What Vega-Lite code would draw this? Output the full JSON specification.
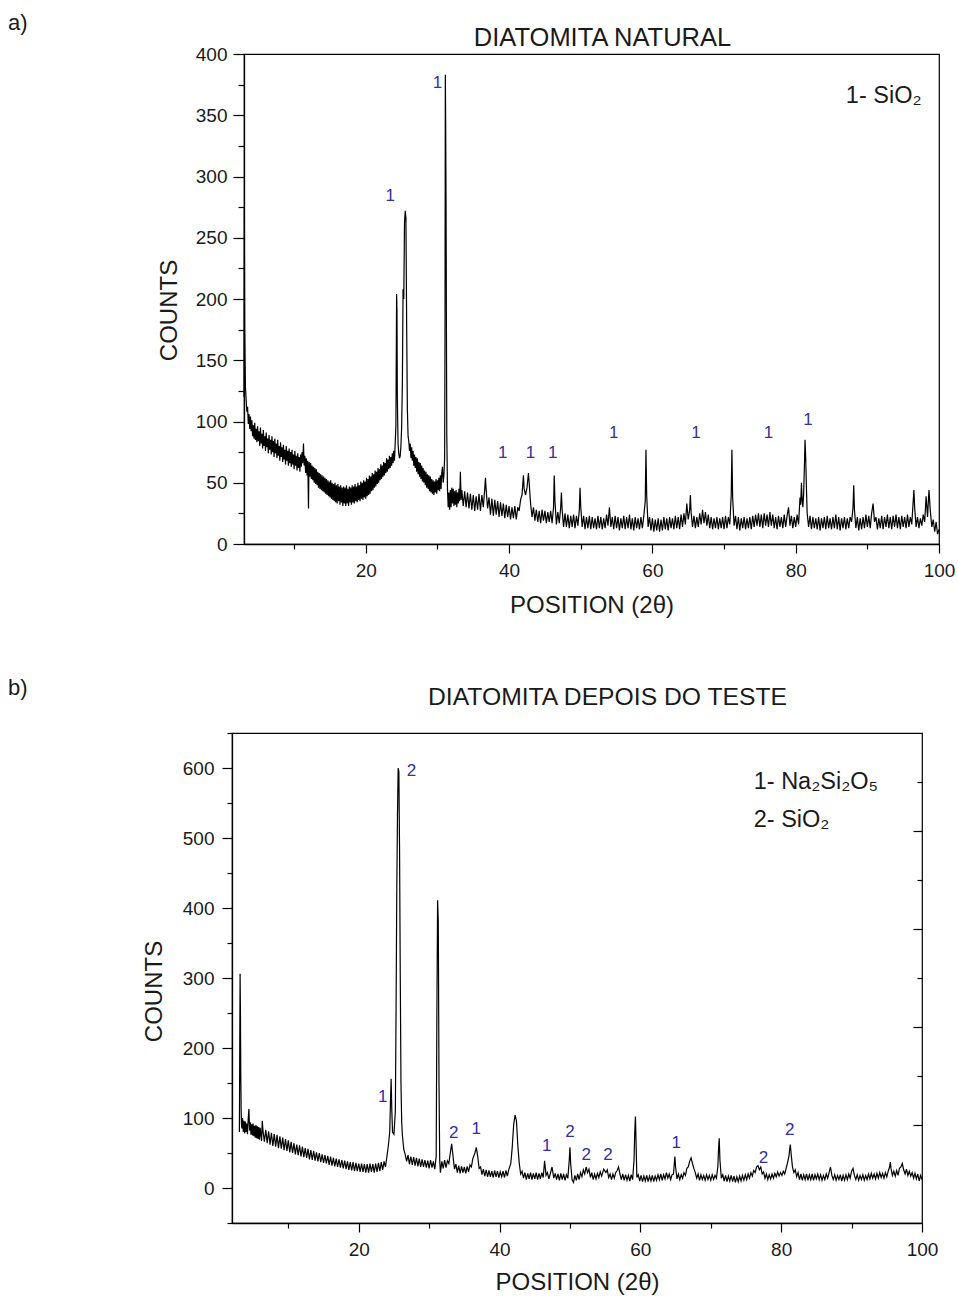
{
  "$schema": "https://vega.github.io/schema/vega-lite/v6.json",
  "background": "white",
  "padding": {"left": 8, "top": 11, "right": 5, "bottom": 0},
  "spacing": 58,
  "config": {
    "font": "Liberation Sans",
    "view": {"stroke": "#000000", "strokeWidth": 1.2},
    "axis": {"grid": false, "labelFont": "Liberation Sans", "titleFont": "Liberation Sans", "labelColor": "#1a1a1a", "titleColor": "#1a1a1a", "titleFontWeight": "normal", "domainColor": "#000000", "tickColor": "#000000", "tickWidth": 1.2, "domainWidth": 1.3, "labelOverlap": false, "labelFlush": false},
    "title": {"font": "Liberation Sans", "fontWeight": "normal", "color": "#1a1a1a", "fontSize": 22}
  },
  "vconcat": [
    {
      "spacing": 0,
      "hconcat": [
        {
          "width": 148,
          "height": 1,
          "view": {"stroke": null},
          "title": {"text": "a)", "anchor": "start", "frame": "group", "offset": 14},
          "data": {"values": [{"t": ""}]},
          "mark": {"type": "text"},
          "encoding": {"text": {"field": "t"}}
        },
        {
      "width": 695,
      "height": 490,
      "resolve": {"axis": {"x": "independent", "y": "independent"}},
      "layer": [
        {
          "data": {"values": [
{"x":3.0,"y":120},{"x":3.05,"y":275},{"x":3.1,"y":178},{"x":3.15,"y":150},{"x":3.2,"y":128},{"x":3.3,"y":118},{"x":3.4,"y":108},{"x":3.5,"y":112},{"x":3.6,"y":98},{"x":3.7,"y":106},{"x":3.8,"y":94},{"x":3.9,"y":104},
{"x":4.0,"y":92},{"x":4.1,"y":101},{"x":4.2,"y":88},{"x":4.3,"y":97},{"x":4.4,"y":86},{"x":4.5,"y":99},{"x":4.6,"y":85},{"x":4.7,"y":94},{"x":4.8,"y":83},{"x":4.9,"y":96},
{"x":5.0,"y":84},{"x":5.1,"y":92},{"x":5.2,"y":80},{"x":5.3,"y":95},{"x":5.4,"y":82},{"x":5.5,"y":90},{"x":5.6,"y":78},{"x":5.7,"y":93},{"x":5.8,"y":80},{"x":5.9,"y":88},
{"x":6.0,"y":76},{"x":6.1,"y":91},{"x":6.2,"y":79},{"x":6.3,"y":86},{"x":6.4,"y":74},{"x":6.5,"y":89},{"x":6.6,"y":77},{"x":6.7,"y":85},{"x":6.8,"y":73},{"x":6.9,"y":88},
{"x":7.0,"y":75},{"x":7.1,"y":84},{"x":7.2,"y":71},{"x":7.3,"y":86},{"x":7.4,"y":74},{"x":7.5,"y":82},{"x":7.6,"y":70},{"x":7.7,"y":85},{"x":7.8,"y":72},{"x":7.9,"y":80},
{"x":8.0,"y":68},{"x":8.1,"y":83},{"x":8.2,"y":71},{"x":8.3,"y":79},{"x":8.4,"y":67},{"x":8.5,"y":81},{"x":8.6,"y":69},{"x":8.7,"y":77},{"x":8.8,"y":65},{"x":8.9,"y":80},
{"x":9.0,"y":68},{"x":9.1,"y":76},{"x":9.2,"y":64},{"x":9.3,"y":78},{"x":9.4,"y":66},{"x":9.5,"y":75},{"x":9.6,"y":63},{"x":9.7,"y":77},{"x":9.8,"y":65},{"x":9.9,"y":73},
{"x":10.0,"y":61},{"x":10.1,"y":76},{"x":10.2,"y":64},{"x":10.3,"y":72},{"x":10.4,"y":60},{"x":10.5,"y":74},{"x":10.6,"y":62},{"x":10.7,"y":71},{"x":10.8,"y":59},{"x":10.9,"y":73},
{"x":11.0,"y":63},{"x":11.1,"y":75},{"x":11.2,"y":66},{"x":11.3,"y":82},{"x":11.4,"y":64},{"x":11.5,"y":72},{"x":11.6,"y":58},{"x":11.7,"y":70},{"x":11.8,"y":56},{"x":11.9,"y":68},
{"x":12.0,"y":29},{"x":12.05,"y":57},{"x":12.1,"y":67},{"x":12.2,"y":55},{"x":12.3,"y":66},{"x":12.4,"y":53},{"x":12.5,"y":64},{"x":12.6,"y":52},{"x":12.7,"y":63},{"x":12.8,"y":50},{"x":12.9,"y":62},
{"x":13.0,"y":49},{"x":13.1,"y":61},{"x":13.2,"y":48},{"x":13.3,"y":59},{"x":13.4,"y":46},{"x":13.5,"y":58},{"x":13.6,"y":45},{"x":13.7,"y":57},{"x":13.8,"y":44},{"x":13.9,"y":56},
{"x":14.0,"y":43},{"x":14.1,"y":55},{"x":14.2,"y":42},{"x":14.3,"y":54},{"x":14.4,"y":41},{"x":14.5,"y":53},{"x":14.6,"y":40},{"x":14.7,"y":52},{"x":14.8,"y":39},{"x":14.9,"y":51},
{"x":15.0,"y":38},{"x":15.1,"y":52},{"x":15.2,"y":37},{"x":15.3,"y":50},{"x":15.4,"y":36},{"x":15.5,"y":49},{"x":15.6,"y":35},{"x":15.7,"y":50},{"x":15.8,"y":34},{"x":15.9,"y":48},
{"x":16.0,"y":33},{"x":16.1,"y":49},{"x":16.2,"y":35},{"x":16.3,"y":47},{"x":16.4,"y":32},{"x":16.5,"y":48},{"x":16.6,"y":34},{"x":16.7,"y":46},{"x":16.8,"y":31},{"x":16.9,"y":47},
{"x":17.0,"y":33},{"x":17.1,"y":46},{"x":17.2,"y":31},{"x":17.3,"y":48},{"x":17.4,"y":33},{"x":17.5,"y":45},{"x":17.6,"y":31},{"x":17.7,"y":47},{"x":17.8,"y":34},{"x":17.9,"y":46},
{"x":18.0,"y":32},{"x":18.1,"y":48},{"x":18.2,"y":34},{"x":18.3,"y":47},{"x":18.4,"y":33},{"x":18.5,"y":49},{"x":18.6,"y":35},{"x":18.7,"y":47},{"x":18.8,"y":34},{"x":18.9,"y":50},
{"x":19.0,"y":36},{"x":19.1,"y":48},{"x":19.2,"y":35},{"x":19.3,"y":51},{"x":19.4,"y":37},{"x":19.5,"y":50},{"x":19.6,"y":36},{"x":19.7,"y":52},{"x":19.8,"y":38},{"x":19.9,"y":51},
{"x":20.0,"y":37},{"x":20.1,"y":54},{"x":20.2,"y":39},{"x":20.3,"y":53},{"x":20.4,"y":40},{"x":20.5,"y":56},{"x":20.6,"y":41},{"x":20.7,"y":55},{"x":20.8,"y":43},{"x":20.9,"y":58},
{"x":21.0,"y":44},{"x":21.1,"y":57},{"x":21.2,"y":46},{"x":21.3,"y":60},{"x":21.4,"y":47},{"x":21.5,"y":59},{"x":21.6,"y":49},{"x":21.7,"y":62},{"x":21.8,"y":50},{"x":21.9,"y":61},
{"x":22.0,"y":52},{"x":22.1,"y":65},{"x":22.2,"y":53},{"x":22.3,"y":64},{"x":22.4,"y":55},{"x":22.5,"y":67},{"x":22.6,"y":56},{"x":22.7,"y":66},{"x":22.8,"y":58},{"x":22.9,"y":70},
{"x":23.0,"y":59},{"x":23.1,"y":69},{"x":23.2,"y":61},{"x":23.3,"y":72},{"x":23.4,"y":62},{"x":23.5,"y":71},{"x":23.6,"y":64},{"x":23.7,"y":74},{"x":23.8,"y":66},{"x":23.9,"y":76},
{"x":24.0,"y":68},{"x":24.1,"y":82},{"x":24.2,"y":96},{"x":24.3,"y":204},{"x":24.35,"y":190},{"x":24.4,"y":120},{"x":24.5,"y":82},{"x":24.6,"y":74},{"x":24.7,"y":70},{"x":24.8,"y":72},{"x":24.9,"y":80},
{"x":25.0,"y":95},{"x":25.1,"y":130},{"x":25.2,"y":208},{"x":25.3,"y":200},{"x":25.4,"y":262},{"x":25.5,"y":272},{"x":25.6,"y":266},{"x":25.7,"y":180},{"x":25.8,"y":110},{"x":25.9,"y":88},
{"x":26.0,"y":84},{"x":26.1,"y":76},{"x":26.2,"y":82},{"x":26.3,"y":70},{"x":26.4,"y":79},{"x":26.5,"y":68},{"x":26.6,"y":76},{"x":26.7,"y":64},{"x":26.8,"y":73},{"x":26.9,"y":62},
{"x":27.0,"y":71},{"x":27.1,"y":59},{"x":27.2,"y":70},{"x":27.3,"y":57},{"x":27.4,"y":67},{"x":27.5,"y":55},{"x":27.6,"y":66},{"x":27.7,"y":53},{"x":27.8,"y":64},{"x":27.9,"y":51},
{"x":28.0,"y":62},{"x":28.1,"y":50},{"x":28.2,"y":60},{"x":28.3,"y":48},{"x":28.4,"y":59},{"x":28.5,"y":46},{"x":28.6,"y":57},{"x":28.7,"y":45},{"x":28.8,"y":56},{"x":28.9,"y":43},
{"x":29.0,"y":55},{"x":29.1,"y":42},{"x":29.2,"y":53},{"x":29.3,"y":41},{"x":29.4,"y":52},{"x":29.5,"y":40},{"x":29.6,"y":51},{"x":29.7,"y":42},{"x":29.8,"y":53},{"x":29.9,"y":41},
{"x":30.0,"y":52},{"x":30.1,"y":44},{"x":30.2,"y":54},{"x":30.3,"y":43},{"x":30.4,"y":56},{"x":30.5,"y":45},{"x":30.6,"y":58},{"x":30.7,"y":63},{"x":30.8,"y":50},{"x":30.9,"y":56},
{"x":31.0,"y":70},{"x":31.05,"y":160},{"x":31.1,"y":383},{"x":31.15,"y":340},{"x":31.2,"y":280},{"x":31.25,"y":180},{"x":31.3,"y":90},{"x":31.4,"y":45},{"x":31.5,"y":30},{"x":31.6,"y":42},{"x":31.7,"y":28},{"x":31.8,"y":44},{"x":31.9,"y":30},
{"x":32.0,"y":46},{"x":32.1,"y":33},{"x":32.2,"y":45},{"x":32.3,"y":31},{"x":32.4,"y":43},{"x":32.5,"y":32},{"x":32.6,"y":44},{"x":32.7,"y":30},{"x":32.8,"y":42},{"x":32.9,"y":33},
{"x":33.0,"y":45},{"x":33.1,"y":35},{"x":33.2,"y":59},{"x":33.3,"y":36},{"x":33.4,"y":44},{"x":33.6,"y":31},{"x":33.8,"y":43},{"x":34.0,"y":30},{"x":34.2,"y":42},{"x":34.4,"y":29},{"x":34.6,"y":41},{"x":34.8,"y":28},
{"x":35.0,"y":40},{"x":35.2,"y":27},{"x":35.4,"y":39},{"x":35.6,"y":28},{"x":35.8,"y":41},{"x":36.0,"y":27},{"x":36.2,"y":40},{"x":36.4,"y":30},{"x":36.6,"y":45},{"x":36.7,"y":54},{"x":36.8,"y":44},
{"x":37.0,"y":29},{"x":37.2,"y":38},{"x":37.4,"y":24},{"x":37.6,"y":37},{"x":37.8,"y":23},{"x":38.0,"y":36},{"x":38.2,"y":24},{"x":38.4,"y":35},{"x":38.6,"y":22},{"x":38.8,"y":34},
{"x":39.0,"y":23},{"x":39.2,"y":33},{"x":39.4,"y":21},{"x":39.6,"y":32},{"x":39.8,"y":22},{"x":40.0,"y":31},{"x":40.2,"y":20},{"x":40.4,"y":30},{"x":40.6,"y":21},{"x":40.8,"y":31},
{"x":41.0,"y":20},{"x":41.2,"y":30},{"x":41.4,"y":27},{"x":41.6,"y":36},{"x":41.8,"y":40},{"x":42.0,"y":56},{"x":42.1,"y":45},{"x":42.3,"y":40},{"x":42.5,"y":46},{"x":42.7,"y":58},{"x":42.8,"y":50},
{"x":43.0,"y":33},{"x":43.2,"y":22},{"x":43.4,"y":30},{"x":43.6,"y":19},{"x":43.8,"y":28},{"x":44.0,"y":18},{"x":44.2,"y":27},{"x":44.4,"y":17},{"x":44.6,"y":28},{"x":44.8,"y":19},
{"x":45.0,"y":27},{"x":45.2,"y":17},{"x":45.4,"y":26},{"x":45.6,"y":18},{"x":45.8,"y":27},{"x":46.0,"y":17},{"x":46.2,"y":30},{"x":46.3,"y":56},{"x":46.4,"y":35},{"x":46.6,"y":16},{"x":46.8,"y":26},
{"x":47.0,"y":17},{"x":47.2,"y":30},{"x":47.3,"y":42},{"x":47.4,"y":28},{"x":47.6,"y":14},{"x":47.8,"y":25},{"x":48.0,"y":14},{"x":48.2,"y":24},{"x":48.4,"y":13},{"x":48.6,"y":23},{"x":48.8,"y":14},
{"x":49.0,"y":24},{"x":49.2,"y":13},{"x":49.4,"y":23},{"x":49.6,"y":15},{"x":49.8,"y":28},{"x":49.9,"y":46},{"x":50.0,"y":30},{"x":50.2,"y":14},{"x":50.4,"y":23},{"x":50.6,"y":12},{"x":50.8,"y":22},
{"x":51.0,"y":13},{"x":51.2,"y":23},{"x":51.4,"y":12},{"x":51.6,"y":22},{"x":51.8,"y":13},{"x":52.0,"y":21},{"x":52.2,"y":12},{"x":52.4,"y":23},{"x":52.6,"y":13},{"x":52.8,"y":22},
{"x":53.0,"y":12},{"x":53.2,"y":21},{"x":53.4,"y":13},{"x":53.6,"y":24},{"x":53.8,"y":15},{"x":54.0,"y":30},{"x":54.2,"y":14},{"x":54.4,"y":22},{"x":54.6,"y":12},{"x":54.8,"y":23},
{"x":55.0,"y":13},{"x":55.2,"y":22},{"x":55.4,"y":11},{"x":55.6,"y":21},{"x":55.8,"y":13},{"x":56.0,"y":23},{"x":56.2,"y":12},{"x":56.4,"y":22},{"x":56.6,"y":13},{"x":56.8,"y":24},
{"x":57.0,"y":12},{"x":57.2,"y":21},{"x":57.4,"y":11},{"x":57.6,"y":22},{"x":57.8,"y":13},{"x":58.0,"y":21},{"x":58.2,"y":12},{"x":58.4,"y":22},{"x":58.6,"y":13},{"x":58.8,"y":23},
{"x":59.0,"y":35},{"x":59.1,"y":77},{"x":59.2,"y":40},{"x":59.4,"y":14},{"x":59.6,"y":22},{"x":59.8,"y":11},{"x":60.0,"y":21},{"x":60.2,"y":10},{"x":60.4,"y":20},{"x":60.6,"y":11},{"x":60.8,"y":21},
{"x":61.0,"y":10},{"x":61.2,"y":20},{"x":61.4,"y":11},{"x":61.6,"y":22},{"x":61.8,"y":12},{"x":62.0,"y":21},{"x":62.2,"y":11},{"x":62.4,"y":22},{"x":62.6,"y":13},{"x":62.8,"y":21},
{"x":63.0,"y":12},{"x":63.2,"y":23},{"x":63.4,"y":13},{"x":63.6,"y":22},{"x":63.8,"y":12},{"x":64.0,"y":24},{"x":64.2,"y":14},{"x":64.4,"y":25},{"x":64.6,"y":16},{"x":64.8,"y":33},
{"x":65.0,"y":20},{"x":65.2,"y":28},{"x":65.3,"y":40},{"x":65.4,"y":26},{"x":65.6,"y":14},{"x":65.8,"y":23},{"x":66.0,"y":13},{"x":66.2,"y":22},{"x":66.4,"y":14},{"x":66.6,"y":25},{"x":66.8,"y":16},
{"x":67.0,"y":28},{"x":67.2,"y":17},{"x":67.4,"y":26},{"x":67.6,"y":15},{"x":67.8,"y":24},{"x":68.0,"y":13},{"x":68.2,"y":22},{"x":68.4,"y":12},{"x":68.6,"y":21},{"x":68.8,"y":13},
{"x":69.0,"y":22},{"x":69.2,"y":12},{"x":69.4,"y":21},{"x":69.6,"y":13},{"x":69.8,"y":22},{"x":70.0,"y":12},{"x":70.2,"y":23},{"x":70.4,"y":13},{"x":70.6,"y":22},{"x":70.8,"y":16},
{"x":71.0,"y":40},{"x":71.1,"y":77},{"x":71.2,"y":38},{"x":71.4,"y":15},{"x":71.6,"y":23},{"x":71.8,"y":12},{"x":72.0,"y":22},{"x":72.2,"y":11},{"x":72.4,"y":21},{"x":72.6,"y":13},{"x":72.8,"y":22},
{"x":73.0,"y":12},{"x":73.2,"y":21},{"x":73.4,"y":13},{"x":73.6,"y":22},{"x":73.8,"y":12},{"x":74.0,"y":23},{"x":74.2,"y":14},{"x":74.4,"y":24},{"x":74.6,"y":15},{"x":74.8,"y":25},
{"x":75.0,"y":14},{"x":75.2,"y":24},{"x":75.4,"y":13},{"x":75.6,"y":25},{"x":75.8,"y":15},{"x":76.0,"y":24},{"x":76.2,"y":14},{"x":76.4,"y":26},{"x":76.6,"y":15},{"x":76.8,"y":24},
{"x":77.0,"y":13},{"x":77.2,"y":22},{"x":77.4,"y":12},{"x":77.6,"y":23},{"x":77.8,"y":14},{"x":78.0,"y":22},{"x":78.2,"y":13},{"x":78.4,"y":24},{"x":78.6,"y":14},{"x":78.8,"y":23},
{"x":79.0,"y":30},{"x":79.2,"y":15},{"x":79.4,"y":23},{"x":79.6,"y":13},{"x":79.8,"y":22},{"x":80.0,"y":14},{"x":80.2,"y":24},{"x":80.4,"y":16},{"x":80.6,"y":38},{"x":80.7,"y":32},{"x":80.8,"y":50},{"x":80.9,"y":36},
{"x":81.0,"y":30},{"x":81.1,"y":40},{"x":81.2,"y":60},{"x":81.3,"y":85},{"x":81.4,"y":70},{"x":81.5,"y":45},{"x":81.6,"y":25},{"x":81.8,"y":14},{"x":82.0,"y":23},{"x":82.2,"y":12},{"x":82.4,"y":22},{"x":82.6,"y":13},{"x":82.8,"y":21},
{"x":83.0,"y":12},{"x":83.2,"y":22},{"x":83.4,"y":11},{"x":83.6,"y":21},{"x":83.8,"y":13},{"x":84.0,"y":22},{"x":84.2,"y":12},{"x":84.4,"y":23},{"x":84.6,"y":13},{"x":84.8,"y":21},
{"x":85.0,"y":12},{"x":85.2,"y":22},{"x":85.4,"y":13},{"x":85.6,"y":24},{"x":85.8,"y":12},{"x":86.0,"y":22},{"x":86.2,"y":11},{"x":86.4,"y":21},{"x":86.6,"y":13},{"x":86.8,"y":22},
{"x":87.0,"y":12},{"x":87.2,"y":21},{"x":87.4,"y":13},{"x":87.6,"y":22},{"x":87.8,"y":18},{"x":88.0,"y":30},{"x":88.1,"y":48},{"x":88.2,"y":28},{"x":88.4,"y":13},{"x":88.6,"y":22},{"x":88.8,"y":11},
{"x":89.0,"y":21},{"x":89.2,"y":12},{"x":89.4,"y":22},{"x":89.6,"y":13},{"x":89.8,"y":24},{"x":90.0,"y":14},{"x":90.2,"y":23},{"x":90.4,"y":13},{"x":90.6,"y":25},{"x":90.8,"y":33},
{"x":91.0,"y":18},{"x":91.2,"y":22},{"x":91.4,"y":12},{"x":91.6,"y":21},{"x":91.8,"y":13},{"x":92.0,"y":23},{"x":92.2,"y":12},{"x":92.4,"y":22},{"x":92.6,"y":14},{"x":92.8,"y":24},
{"x":93.0,"y":13},{"x":93.2,"y":22},{"x":93.4,"y":12},{"x":93.6,"y":23},{"x":93.8,"y":14},{"x":94.0,"y":24},{"x":94.2,"y":13},{"x":94.4,"y":22},{"x":94.6,"y":12},{"x":94.8,"y":23},
{"x":95.0,"y":14},{"x":95.2,"y":22},{"x":95.4,"y":13},{"x":95.6,"y":24},{"x":95.8,"y":14},{"x":96.0,"y":22},{"x":96.2,"y":16},{"x":96.4,"y":35},{"x":96.5,"y":44},{"x":96.6,"y":30},{"x":96.8,"y":14},
{"x":97.0,"y":22},{"x":97.2,"y":13},{"x":97.4,"y":21},{"x":97.6,"y":15},{"x":97.8,"y":24},{"x":98.0,"y":18},{"x":98.2,"y":39},{"x":98.4,"y":22},{"x":98.6,"y":44},{"x":98.8,"y":26},
{"x":99.0,"y":14},{"x":99.2,"y":20},{"x":99.4,"y":10},{"x":99.6,"y":18},{"x":99.8,"y":8},{"x":100.0,"y":12}
          ]},
          "mark": {"type": "line", "color": "#000000", "strokeWidth": 1.2},
          "encoding": {
            "x": {"field": "x", "type": "quantitative", "scale": {"domain": [3, 100], "nice": false, "zero": false},
              "axis": {"values": [10,20,30,40,50,60,70,80,90,100], "labelExpr": "datum.value % 20 === 0 ? datum.label : ''", "tickSize": {"condition": {"test": "datum.value % 20 === 0", "value": 9}, "value": 5}, "labelFontSize": 19, "labelPadding": 8, "title": "POSITION (2θ)", "titleFontSize": 24, "titlePadding": 13}},
            "y": {"field": "y", "type": "quantitative", "scale": {"domain": [0, 400], "nice": false, "zero": false},
              "axis": {"values": [0,25,50,75,100,125,150,175,200,225,250,275,300,325,350,375,400], "labelExpr": "datum.value % 50 === 0 ? datum.label : ''", "tickSize": {"condition": {"test": "datum.value % 50 === 0", "value": 11}, "value": 6}, "labelFontSize": 19, "labelPadding": 6, "title": "COUNTS", "titleFontSize": 24, "titlePadding": 14, "titleY": 256}}
          }
        },
        {
          "data": {"values": [
            {"x": 23.4, "y": 284, "t": "1"}, {"x": 30.0, "y": 376, "t": "1"}, {"x": 39.1, "y": 74, "t": "1"}, {"x": 43.0, "y": 74, "t": "1"}, {"x": 46.1, "y": 74, "t": "1"}, {"x": 54.6, "y": 91, "t": "1"}, {"x": 66.1, "y": 91, "t": "1"}, {"x": 76.2, "y": 91, "t": "1"}, {"x": 81.7, "y": 101, "t": "1"}
          ]},
          "mark": {"type": "text", "color": "#33339c", "fontSize": 17, "font": "Liberation Sans", "align": "center", "baseline": "middle"},
          "encoding": {
            "x": {"field": "x", "type": "quantitative", "scale": {"domain": [3, 100], "nice": false, "zero": false},
              "axis": {"orient": "top", "ticks": false, "labels": false, "domain": false, "title": "DIATOMITA NATURAL", "titleFontSize": 25.5, "titlePadding": 4, "titleX": 358}},
            "y": {"field": "y", "type": "quantitative", "scale": {"domain": [0, 400], "nice": false, "zero": false}, "axis": null},
            "text": {"field": "t"}
          }
        },
        {
          "data": {"values": [{"x": 87.0, "y": 366, "t": "1- SiO₂"}]},
          "mark": {"type": "text", "color": "#1a1a1a", "fontSize": 23.5, "font": "Liberation Sans", "align": "left", "baseline": "middle"},
          "encoding": {
            "x": {"field": "x", "type": "quantitative", "axis": null},
            "y": {"field": "y", "type": "quantitative", "axis": null},
            "text": {"field": "t"}
          }
        }
      ]
        }
      ]
    },
    {
      "spacing": 0,
      "hconcat": [
        {
          "width": 133,
          "height": 1,
          "view": {"stroke": null},
          "title": {"text": "b)", "anchor": "start", "frame": "group", "offset": 28},
          "data": {"values": [{"t": ""}]},
          "mark": {"type": "text"},
          "encoding": {"text": {"field": "t"}}
        },
        {
      "width": 690,
      "height": 490,
      "resolve": {"axis": {"x": "independent", "y": "independent"}},
      "layer": [
        {
          "data": {"values": [
{"x":3.05,"y":80},{"x":3.1,"y":200},{"x":3.15,"y":306},{"x":3.2,"y":250},{"x":3.25,"y":160},{"x":3.3,"y":110},{"x":3.35,"y":92},{"x":3.4,"y":85},{"x":3.5,"y":100},{"x":3.6,"y":80},{"x":3.7,"y":96},{"x":3.8,"y":78},{"x":3.9,"y":95},
{"x":4.0,"y":80},{"x":4.1,"y":92},{"x":4.2,"y":77},{"x":4.3,"y":98},{"x":4.4,"y":113},{"x":4.5,"y":82},{"x":4.6,"y":94},{"x":4.7,"y":76},{"x":4.8,"y":91},{"x":4.9,"y":75},
{"x":5.0,"y":92},{"x":5.1,"y":74},{"x":5.2,"y":89},{"x":5.3,"y":72},{"x":5.4,"y":90},{"x":5.5,"y":71},{"x":5.6,"y":88},{"x":5.7,"y":70},{"x":5.8,"y":87},{"x":5.9,"y":69},
{"x":6.0,"y":86},{"x":6.2,"y":67},{"x":6.3,"y":96},{"x":6.4,"y":82},{"x":6.6,"y":66},{"x":6.8,"y":83},{"x":7.0,"y":64},{"x":7.2,"y":81},{"x":7.4,"y":62},{"x":7.6,"y":79},{"x":7.8,"y":60},
{"x":8.0,"y":77},{"x":8.2,"y":59},{"x":8.4,"y":76},{"x":8.6,"y":57},{"x":8.8,"y":74},{"x":9.0,"y":56},{"x":9.2,"y":72},{"x":9.4,"y":54},{"x":9.6,"y":70},{"x":9.8,"y":53},
{"x":10.0,"y":68},{"x":10.2,"y":51},{"x":10.4,"y":66},{"x":10.6,"y":50},{"x":10.8,"y":64},{"x":11.0,"y":48},{"x":11.2,"y":62},{"x":11.4,"y":47},{"x":11.6,"y":61},{"x":11.8,"y":45},
{"x":12.0,"y":59},{"x":12.2,"y":44},{"x":12.4,"y":57},{"x":12.6,"y":43},{"x":12.8,"y":56},{"x":13.0,"y":41},{"x":13.2,"y":54},{"x":13.4,"y":40},{"x":13.6,"y":53},{"x":13.8,"y":39},
{"x":14.0,"y":51},{"x":14.2,"y":38},{"x":14.4,"y":50},{"x":14.6,"y":37},{"x":14.8,"y":48},{"x":15.0,"y":36},{"x":15.2,"y":47},{"x":15.4,"y":35},{"x":15.6,"y":46},{"x":15.8,"y":33},
{"x":16.0,"y":45},{"x":16.2,"y":32},{"x":16.4,"y":43},{"x":16.6,"y":31},{"x":16.8,"y":42},{"x":17.0,"y":30},{"x":17.2,"y":41},{"x":17.4,"y":29},{"x":17.6,"y":40},{"x":17.8,"y":28},
{"x":18.0,"y":39},{"x":18.2,"y":27},{"x":18.4,"y":38},{"x":18.6,"y":26},{"x":18.8,"y":37},{"x":19.0,"y":25},{"x":19.2,"y":37},{"x":19.4,"y":24},{"x":19.6,"y":36},{"x":19.8,"y":24},
{"x":20.0,"y":35},{"x":20.2,"y":23},{"x":20.4,"y":35},{"x":20.6,"y":23},{"x":20.8,"y":34},{"x":21.0,"y":22},{"x":21.2,"y":34},{"x":21.4,"y":22},{"x":21.6,"y":35},{"x":21.8,"y":23},
{"x":22.0,"y":34},{"x":22.2,"y":22},{"x":22.4,"y":35},{"x":22.6,"y":23},{"x":22.8,"y":36},{"x":23.0,"y":24},{"x":23.2,"y":37},{"x":23.4,"y":26},{"x":23.6,"y":38},{"x":23.8,"y":30},
{"x":24.0,"y":45},{"x":24.2,"y":60},{"x":24.4,"y":80},{"x":24.5,"y":120},{"x":24.6,"y":156},{"x":24.7,"y":110},{"x":24.8,"y":80},{"x":25.0,"y":77},{"x":25.2,"y":110},{"x":25.3,"y":250},{"x":25.4,"y":420},{"x":25.5,"y":530},{"x":25.6,"y":600},{"x":25.7,"y":595},{"x":25.8,"y":480},{"x":25.9,"y":300},
{"x":26.0,"y":150},{"x":26.1,"y":95},{"x":26.2,"y":75},{"x":26.4,"y":55},{"x":26.6,"y":48},{"x":26.8,"y":38},{"x":27.0,"y":47},{"x":27.2,"y":34},{"x":27.4,"y":45},{"x":27.6,"y":33},{"x":27.8,"y":44},
{"x":28.0,"y":32},{"x":28.2,"y":43},{"x":28.4,"y":31},{"x":28.6,"y":42},{"x":28.8,"y":30},{"x":29.0,"y":41},{"x":29.2,"y":30},{"x":29.4,"y":40},{"x":29.6,"y":29},{"x":29.8,"y":39},
{"x":30.0,"y":28},{"x":30.2,"y":40},{"x":30.4,"y":29},{"x":30.6,"y":38},{"x":30.8,"y":27},{"x":31.0,"y":45},{"x":31.1,"y":250},{"x":31.2,"y":411},{"x":31.3,"y":380},{"x":31.4,"y":150},{"x":31.5,"y":40},{"x":31.6,"y":22},{"x":31.8,"y":38},
{"x":32.0,"y":28},{"x":32.2,"y":40},{"x":32.4,"y":29},{"x":32.6,"y":39},{"x":32.8,"y":35},{"x":33.0,"y":50},{"x":33.2,"y":63},{"x":33.4,"y":45},{"x":33.6,"y":27},{"x":33.8,"y":34},
{"x":34.0,"y":22},{"x":34.2,"y":32},{"x":34.4,"y":21},{"x":34.6,"y":31},{"x":34.8,"y":22},{"x":35.0,"y":30},{"x":35.2,"y":21},{"x":35.4,"y":31},{"x":35.6,"y":23},{"x":35.8,"y":33},
{"x":36.0,"y":30},{"x":36.2,"y":42},{"x":36.5,"y":50},{"x":36.7,"y":58},{"x":36.9,"y":45},{"x":37.1,"y":28},{"x":37.3,"y":30},{"x":37.5,"y":19},{"x":37.7,"y":27},{"x":37.9,"y":17},
{"x":38.1,"y":26},{"x":38.3,"y":16},{"x":38.5,"y":25},{"x":38.7,"y":16},{"x":38.9,"y":24},{"x":39.1,"y":15},{"x":39.3,"y":25},{"x":39.5,"y":16},{"x":39.7,"y":24},{"x":39.9,"y":15},
{"x":40.1,"y":23},{"x":40.3,"y":16},{"x":40.5,"y":24},{"x":40.7,"y":15},{"x":40.9,"y":25},{"x":41.1,"y":17},{"x":41.3,"y":26},{"x":41.6,"y":35},{"x":41.8,"y":58},{"x":42.0,"y":90},{"x":42.2,"y":104},{"x":42.4,"y":96},{"x":42.6,"y":60},{"x":42.8,"y":35},
{"x":43.0,"y":20},{"x":43.2,"y":24},{"x":43.4,"y":14},{"x":43.6,"y":22},{"x":43.8,"y":12},{"x":44.0,"y":21},{"x":44.2,"y":13},{"x":44.4,"y":22},{"x":44.6,"y":12},{"x":44.8,"y":21},
{"x":45.0,"y":13},{"x":45.2,"y":22},{"x":45.4,"y":12},{"x":45.6,"y":21},{"x":45.8,"y":13},{"x":46.0,"y":22},{"x":46.2,"y":15},{"x":46.4,"y":39},{"x":46.6,"y":18},{"x":46.8,"y":22},
{"x":47.0,"y":13},{"x":47.2,"y":20},{"x":47.45,"y":30},{"x":47.7,"y":14},{"x":47.9,"y":21},{"x":48.1,"y":12},{"x":48.3,"y":20},{"x":48.5,"y":11},{"x":48.7,"y":21},{"x":48.9,"y":12},
{"x":49.1,"y":20},{"x":49.3,"y":11},{"x":49.5,"y":19},{"x":49.7,"y":14},{"x":49.9,"y":40},{"x":50.0,"y":58},{"x":50.1,"y":35},{"x":50.3,"y":12},{"x":50.5,"y":8},{"x":50.7,"y":18},{"x":50.9,"y":11},
{"x":51.1,"y":20},{"x":51.3,"y":12},{"x":51.5,"y":22},{"x":51.7,"y":16},{"x":51.9,"y":26},{"x":52.1,"y":20},{"x":52.3,"y":30},{"x":52.5,"y":22},{"x":52.7,"y":27},{"x":52.9,"y":15},
{"x":53.1,"y":22},{"x":53.3,"y":12},{"x":53.5,"y":20},{"x":53.7,"y":13},{"x":53.9,"y":21},{"x":54.1,"y":15},{"x":54.3,"y":23},{"x":54.5,"y":17},{"x":54.8,"y":27},{"x":55.1,"y":22},
{"x":55.3,"y":26},{"x":55.5,"y":15},{"x":55.7,"y":20},{"x":55.9,"y":12},{"x":56.1,"y":20},{"x":56.3,"y":14},{"x":56.5,"y":22},{"x":56.7,"y":25},{"x":56.9,"y":30},{"x":57.1,"y":20},
{"x":57.3,"y":12},{"x":57.5,"y":20},{"x":57.7,"y":11},{"x":57.9,"y":19},{"x":58.1,"y":11},{"x":58.3,"y":18},{"x":58.5,"y":10},{"x":58.7,"y":19},{"x":58.9,"y":12},
{"x":59.1,"y":40},{"x":59.2,"y":80},{"x":59.3,"y":102},{"x":59.4,"y":60},{"x":59.5,"y":15},{"x":59.7,"y":19},{"x":59.9,"y":10},{"x":60.1,"y":18},{"x":60.3,"y":9},{"x":60.5,"y":17},
{"x":60.7,"y":10},{"x":60.9,"y":18},{"x":61.1,"y":9},{"x":61.3,"y":17},{"x":61.5,"y":10},{"x":61.7,"y":18},{"x":61.9,"y":9},{"x":62.1,"y":17},{"x":62.3,"y":11},{"x":62.5,"y":19},
{"x":62.7,"y":12},{"x":62.9,"y":20},{"x":63.1,"y":11},{"x":63.3,"y":19},{"x":63.5,"y":13},{"x":63.7,"y":22},{"x":63.9,"y":14},{"x":64.1,"y":20},{"x":64.3,"y":12},{"x":64.5,"y":19},
{"x":64.7,"y":20},{"x":64.9,"y":45},{"x":65.0,"y":30},{"x":65.2,"y":13},{"x":65.4,"y":20},{"x":65.6,"y":12},{"x":65.8,"y":19},{"x":66.0,"y":14},{"x":66.2,"y":22},{"x":66.4,"y":18},
{"x":66.6,"y":28},{"x":66.8,"y":30},{"x":67.0,"y":38},{"x":67.2,"y":43},{"x":67.4,"y":35},{"x":67.6,"y":28},{"x":67.8,"y":22},{"x":68.0,"y":14},{"x":68.2,"y":20},{"x":68.4,"y":11},
{"x":68.6,"y":19},{"x":68.8,"y":12},{"x":69.0,"y":18},{"x":69.2,"y":11},{"x":69.4,"y":19},{"x":69.6,"y":12},{"x":69.8,"y":18},{"x":70.0,"y":11},{"x":70.2,"y":19},{"x":70.4,"y":12},
{"x":70.6,"y":18},{"x":70.8,"y":14},{"x":71.0,"y":30},{"x":71.1,"y":55},{"x":71.2,"y":71},{"x":71.3,"y":40},{"x":71.5,"y":14},{"x":71.7,"y":19},{"x":71.9,"y":10},{"x":72.1,"y":18},
{"x":72.3,"y":9},{"x":72.5,"y":17},{"x":72.7,"y":10},{"x":72.9,"y":18},{"x":73.1,"y":9},{"x":73.3,"y":17},{"x":73.5,"y":8},{"x":73.7,"y":16},{"x":73.9,"y":9},{"x":74.1,"y":17},
{"x":74.3,"y":10},{"x":74.5,"y":18},{"x":74.7,"y":11},{"x":74.9,"y":19},{"x":75.1,"y":12},{"x":75.3,"y":20},{"x":75.5,"y":14},{"x":75.7,"y":22},{"x":75.9,"y":17},{"x":76.1,"y":25},
{"x":76.3,"y":22},{"x":76.5,"y":30},{"x":76.7,"y":32},{"x":76.9,"y":26},{"x":77.1,"y":30},{"x":77.3,"y":20},{"x":77.5,"y":23},{"x":77.7,"y":14},{"x":77.9,"y":20},{"x":78.1,"y":12},
{"x":78.3,"y":19},{"x":78.5,"y":13},{"x":78.7,"y":20},{"x":78.9,"y":14},{"x":79.1,"y":21},{"x":79.3,"y":16},{"x":79.5,"y":23},{"x":79.7,"y":17},{"x":79.9,"y":22},{"x":80.1,"y":18},
{"x":80.3,"y":24},{"x":80.5,"y":20},{"x":80.7,"y":28},{"x":80.9,"y":36},{"x":81.1,"y":45},{"x":81.2,"y":55},{"x":81.3,"y":62},{"x":81.4,"y":50},{"x":81.5,"y":40},{"x":81.6,"y":30},{"x":81.8,"y":22},
{"x":82.0,"y":26},{"x":82.2,"y":16},{"x":82.4,"y":22},{"x":82.6,"y":12},{"x":82.8,"y":20},{"x":83.0,"y":11},{"x":83.2,"y":19},{"x":83.4,"y":12},{"x":83.6,"y":20},{"x":83.8,"y":11},
{"x":84.0,"y":19},{"x":84.2,"y":12},{"x":84.4,"y":20},{"x":84.6,"y":11},{"x":84.8,"y":19},{"x":85.0,"y":13},{"x":85.2,"y":20},{"x":85.4,"y":12},{"x":85.6,"y":19},{"x":85.8,"y":11},
{"x":86.0,"y":18},{"x":86.2,"y":12},{"x":86.4,"y":20},{"x":86.6,"y":14},{"x":86.8,"y":22},{"x":87.0,"y":30},{"x":87.2,"y":18},{"x":87.4,"y":12},{"x":87.6,"y":19},{"x":87.8,"y":11},
{"x":88.0,"y":18},{"x":88.2,"y":12},{"x":88.4,"y":19},{"x":88.6,"y":10},{"x":88.8,"y":18},{"x":89.0,"y":11},{"x":89.2,"y":19},{"x":89.4,"y":12},{"x":89.6,"y":20},{"x":89.8,"y":14},
{"x":90.0,"y":24},{"x":90.2,"y":28},{"x":90.4,"y":18},{"x":90.6,"y":12},{"x":90.8,"y":19},{"x":91.0,"y":11},{"x":91.2,"y":18},{"x":91.4,"y":12},{"x":91.6,"y":19},{"x":91.8,"y":11},
{"x":92.0,"y":18},{"x":92.2,"y":12},{"x":92.4,"y":20},{"x":92.6,"y":13},{"x":92.8,"y":21},{"x":93.0,"y":14},{"x":93.2,"y":20},{"x":93.4,"y":13},{"x":93.6,"y":21},{"x":93.8,"y":14},
{"x":94.0,"y":22},{"x":94.2,"y":15},{"x":94.4,"y":21},{"x":94.6,"y":14},{"x":94.8,"y":22},{"x":95.0,"y":16},{"x":95.2,"y":24},{"x":95.4,"y":30},{"x":95.5,"y":37},{"x":95.6,"y":28},{"x":95.8,"y":18},
{"x":96.0,"y":24},{"x":96.2,"y":17},{"x":96.4,"y":25},{"x":96.6,"y":18},{"x":96.8,"y":28},{"x":97.0,"y":30},{"x":97.2,"y":35},{"x":97.4,"y":26},{"x":97.6,"y":20},{"x":97.8,"y":27},
{"x":98.0,"y":18},{"x":98.2,"y":24},{"x":98.4,"y":17},{"x":98.6,"y":22},{"x":98.8,"y":14},{"x":99.0,"y":21},{"x":99.2,"y":13},{"x":99.4,"y":20},{"x":99.6,"y":10},{"x":99.8,"y":18},{"x":100.0,"y":12}
          ]},
          "mark": {"type": "line", "color": "#000000", "strokeWidth": 1.2},
          "encoding": {
            "x": {"field": "x", "type": "quantitative", "scale": {"domain": [2, 100], "nice": false, "zero": false},
              "axis": {"values": [10,20,30,40,50,60,70,80,90,100], "labelExpr": "datum.value % 20 === 0 ? datum.label : ''", "tickSize": {"condition": {"test": "datum.value % 20 === 0", "value": 9}, "value": 5}, "labelFontSize": 19, "labelPadding": 8, "title": "POSITION (2θ)", "titleFontSize": 24, "titlePadding": 11}},
            "y": {"field": "y", "type": "quantitative", "scale": {"domain": [-50, 650], "nice": false, "zero": false},
              "axis": {"values": [-50,0,50,100,150,200,250,300,350,400,450,500,550,600,650], "labelExpr": "datum.value % 100 === 0 ? datum.label : ''", "tickSize": {"condition": {"test": "datum.value % 100 === 0", "value": 10}, "value": 5}, "labelFontSize": 19, "labelPadding": 8, "title": "COUNTS", "titleFontSize": 24, "titlePadding": 16, "titleY": 258}}
          }
        },
        {
          "data": {"values": [
            {"x": 23.4, "y": 130, "t": "1"}, {"x": 27.5, "y": 596, "t": "2"}, {"x": 33.5, "y": 78, "t": "2"}, {"x": 36.7, "y": 84, "t": "1"}, {"x": 46.7, "y": 60, "t": "1"}, {"x": 50.0, "y": 80, "t": "2"}, {"x": 52.3, "y": 47, "t": "2"}, {"x": 55.4, "y": 47, "t": "2"}, {"x": 65.1, "y": 64, "t": "1"}, {"x": 77.5, "y": 43, "t": "2"}, {"x": 81.2, "y": 83, "t": "2"}
          ]},
          "mark": {"type": "text", "color": "#2f2fa8", "fontSize": 17, "font": "Liberation Sans", "align": "center", "baseline": "middle"},
          "encoding": {
            "x": {"field": "x", "type": "quantitative", "scale": {"domain": [2, 100], "nice": false, "zero": false},
              "axis": {"orient": "top", "ticks": false, "labels": false, "domain": false, "title": "DIATOMITA DEPOIS DO TESTE", "titleFontSize": 24.7, "titlePadding": 24, "titleX": 375}},
            "y": {"field": "y", "type": "quantitative", "scale": {"domain": [-50, 650], "nice": false, "zero": false},
              "axis": {"orient": "right", "values": [580, 510, 440, 370, 300, 230, 160, 90], "labels": false, "domain": false, "title": null, "tickSize": {"condition": {"test": "indexof([510, 370, 230, 90], datum.value) >= 0", "value": -9}, "value": -5}}},
            "text": {"field": "t"}
          }
        },
        {
          "data": {"values": [{"x": 76.1, "y": 580, "t": "1- Na₂Si₂O₅"}, {"x": 76.1, "y": 526, "t": "2- SiO₂"}]},
          "mark": {"type": "text", "color": "#1a1a1a", "fontSize": 23.5, "font": "Liberation Sans", "align": "left", "baseline": "middle"},
          "encoding": {
            "x": {"field": "x", "type": "quantitative", "axis": null},
            "y": {"field": "y", "type": "quantitative", "axis": null},
            "text": {"field": "t"}
          }
        }
      ]
        }
      ]
    }
  ]
}
